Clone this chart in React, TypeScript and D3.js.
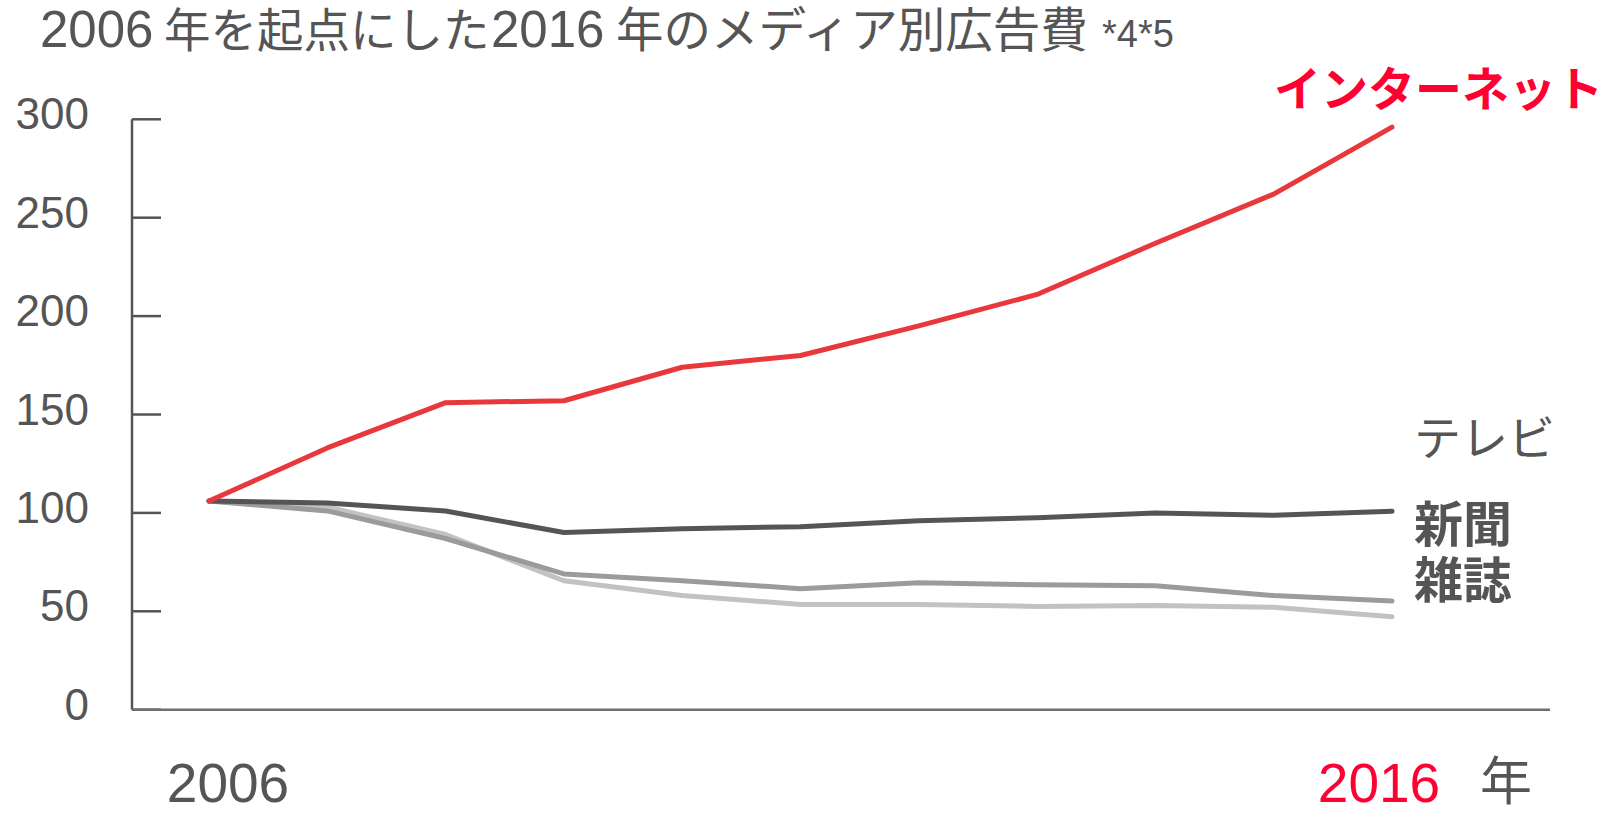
import React from 'react'
import * as d3 from 'd3'

const years = [2006, 2007, 2008, 2009, 2010, 2011, 2012, 2013, 2014, 2015, 2016]
const internet = [106, 133, 156, 157, 174, 180, 195, 211, 237, 262, 296]
const tv = [106, 105, 101, 90, 92, 93, 96, 97.5, 100, 98.8, 100.8]
const newspaper = [106, 101, 87, 69, 65.5, 61.5, 64.5, 63.5, 63, 58, 55.2]
const magazine = [106, 103, 89, 65.5, 58, 53.5, 53.5, 52.5, 53, 52, 47.2]
const yTicks = [0, 50, 100, 150, 200, 250, 300]

const series = [
  { name: '雑誌', values: magazine, color: '#c2c2c2' },
  { name: '新聞', values: newspaper, color: '#9b9b9b' },
  { name: 'テレビ', values: tv, color: '#555555' },
  { name: 'インターネット', values: internet, color: '#e8383b' }
]

const FONT = "'Liberation Sans', 'Noto Sans CJK JP', sans-serif"
const GRAY = '#555555'

export default function App() {
  const width = 1620
  const height = 821
  const axisX = 132
  const x = d3.scaleLinear().domain([2006, 2016]).range([209, 1392])
  const y = d3.scaleLinear().domain([0, 300]).range([709.7, 119.3])

  const line = d3
    .line<number>()
    .x((_, i) => x(years[i]))
    .y((d) => y(d))

  return (
    <svg
      width={width}
      height={height}
      style={{ position: 'absolute', left: 0, top: 0, background: '#fff' }}
      fontFamily={FONT}
    >
      {/* title, pieced together */}
      <g fill={GRAY}>
        <text x={40} y={47} fontSize={51}>2006</text>
        <text x={164} y={47} fontSize={46.5}>年を起点にした</text>
        <text x={491} y={47} fontSize={51}>2016</text>
        <text x={616} y={47} fontSize={47.5}>年のメディア別広告費</text>
        <text x={1102} y={47} fontSize={38}>*4*5</text>
      </g>

      {/* y axis */}
      <line x1={axisX} x2={axisX} y1={y(300)} y2={y(0)} stroke={GRAY} strokeWidth={2.5} />
      {yTicks.map((t) => (
        <g key={t}>
          <line x1={axisX} x2={axisX + 29} y1={y(t)} y2={y(t)} stroke={GRAY} strokeWidth={2.5} />
          <text x={89} y={y(t) + 10} textAnchor="end" fontSize={44} fill={GRAY}>
            {t}
          </text>
        </g>
      ))}

      {/* x axis */}
      <line x1={axisX} x2={1550} y1={y(0)} y2={y(0)} stroke="#707070" strokeWidth={2.5} />
      <text x={228} y={802} textAnchor="middle" fontSize={55} fill={GRAY}>
        2006
      </text>
      <text x={1379} y={802} textAnchor="middle" fontSize={55} fill="#ff0033">
        2016
      </text>
      <text x={1480} y={800} fontSize={52} fill={GRAY}>
        年
      </text>

      {/* lines */}
      {series.map((s) => (
        <path
          key={s.name}
          d={line(s.values) ?? ''}
          fill="none"
          stroke={s.color}
          strokeWidth={5}
          strokeLinecap="round"
          strokeLinejoin="round"
        />
      ))}

      {/* labels */}
      <text x={1274} y={106} fontSize={47} fontWeight="bold" fill="#ff0033">
        インターネット
      </text>
      <text x={1414} y={455} fontSize={47} fill={GRAY}>
        テレビ
      </text>
      <text x={1414} y={542} fontSize={49} fontWeight="bold" fill={GRAY}>
        新聞
      </text>
      <text x={1414} y={598} fontSize={49} fontWeight="bold" fill={GRAY}>
        雑誌
      </text>
    </svg>
  )
}
